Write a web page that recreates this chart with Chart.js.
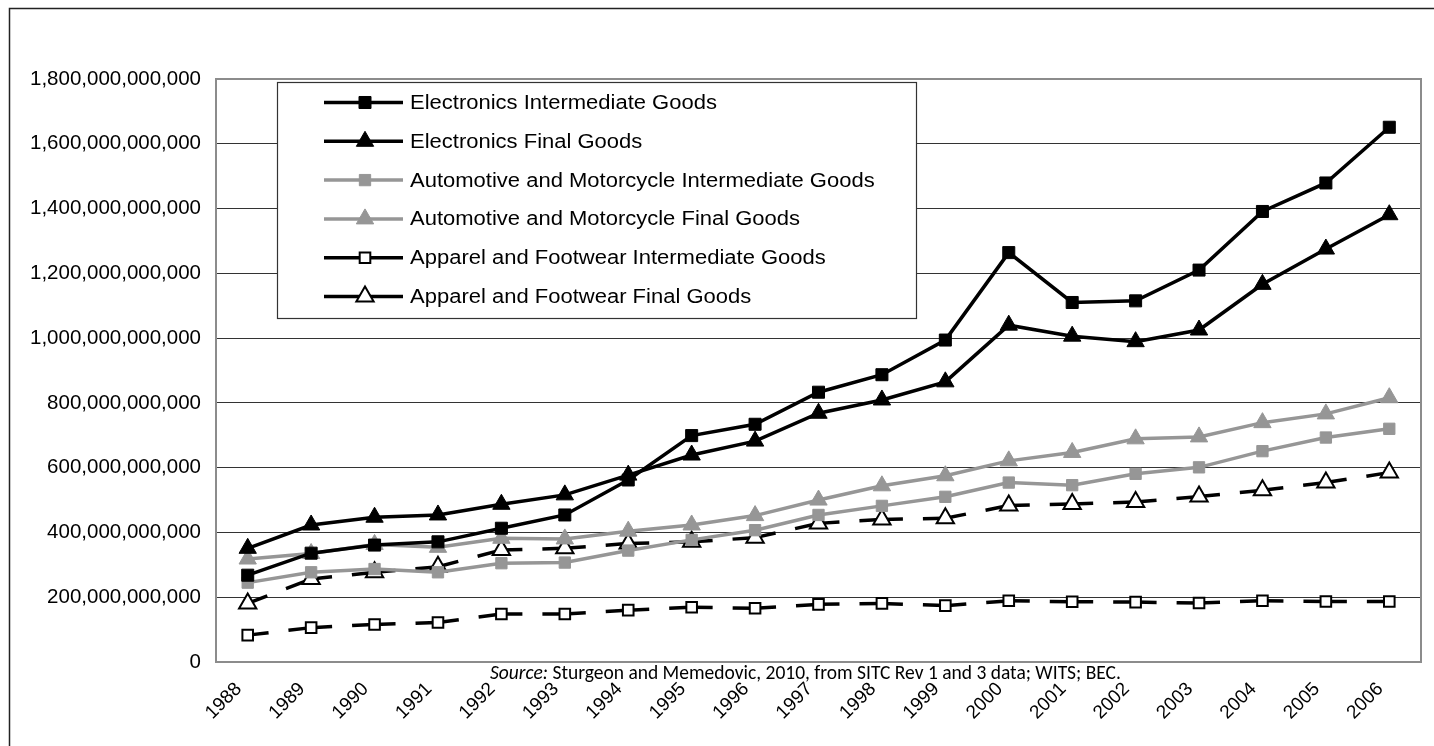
<!DOCTYPE html>
<html>
<head>
<meta charset="utf-8">
<script src="https://cdn.jsdelivr.net/npm/chart.js@4.4.1/dist/chart.umd.min.js"></script>
<style>
	html, body { margin: 0; padding: 0; background: #fff; }
	#wrap { width: 1434px; height: 746px; }
</style>
</head>
<body>
<div id="wrap"><canvas id="chart" width="1434" height="746"></canvas></div>
<script>
// values, in billions
const years = ['1988', '1989', '1990', '1991', '1992', '1993', '1994', '1995', '1996', '1997',
	'1998', '1999', '2000', '2001', '2002', '2003', '2004', '2005', '2006'];
const elecIntermediate = [268, 336, 361, 371, 413, 454, 562, 699, 734, 833, 887, 994, 1264, 1110, 1115, 1210, 1391, 1479, 1651];
const elecFinal = [351, 423, 447, 454, 487, 516, 577, 639, 682, 768, 809, 865, 1040, 1006, 989, 1025, 1166, 1275, 1381];
const autoIntermediate = [245, 277, 287, 277, 305, 307, 344, 377, 407, 454, 482, 510, 554, 546, 581, 601, 651, 693, 720];
const autoFinal = [318, 335, 363, 354, 382, 380, 404, 423, 452, 500, 544, 575, 621, 647, 689, 695, 739, 766, 816];
const apparelIntermediate = [83, 106, 116, 122, 148, 148, 160, 169, 166, 178, 181, 174, 189, 186, 185, 182, 189, 187, 187];
const apparelFinal = [181, 256, 277, 294, 346, 351, 366, 371, 384, 428, 440, 444, 483, 488, 494, 511, 530, 554, 585];
const yTicks = [0, 200, 400, 600, 800, 1000, 1200, 1400, 1600, 1800];
const unit = 1e9;
const sourceLabel = 'Source:';
const sourceText = ' Sturgeon and Memedovic, 2010, from SITC Rev 1 and 3 data; WITS; BEC.';

const BLACK = '#000000';
const GREY = '#969696';
const AXIS_GREY = '#8c8c8c';
const FONT = '"Liberation Sans", Arial, sans-serif';

// Excel draws each dashed segment on its own, so the dash restarts at every point
const restartDash = {
	borderDashOffset: (ctx) => (ctx.p0DataIndex % 2) * 0.001,
};

const series = (label, values, color, fill, pointStyle, radius, dashed) => ({
	label,
	data: values.map((v) => v * unit),
	borderColor: color,
	backgroundColor: fill,
	borderWidth: 3.5,
	borderDash: dashed ? [21, 20] : [],
	segment: dashed ? restartDash : undefined,
	pointStyle,
	pointRadius: radius,
	pointHoverRadius: radius,
	pointBackgroundColor: fill,
	pointBorderColor: dashed ? BLACK : color,
	pointBorderWidth: dashed ? 2 : 1,
	tension: 0,
});

const datasets = [
	series('Electronics Intermediate Goods', elecIntermediate, BLACK, BLACK, 'rect', 8.5, false),
	series('Electronics Final Goods', elecFinal, BLACK, BLACK, 'triangle', 10, false),
	series('Automotive and Motorcycle Intermediate Goods', autoIntermediate, GREY, GREY, 'rect', 8, false),
	series('Automotive and Motorcycle Final Goods', autoFinal, GREY, GREY, 'triangle', 10, false),
	series('Apparel and Footwear Intermediate Goods', apparelIntermediate, BLACK, '#ffffff', 'rect', 7.5, true),
	series('Apparel and Footwear Final Goods', apparelFinal, BLACK, '#ffffff', 'triangle', 10, true),
];

const framePlugin = {
	id: 'frame',
	beforeDraw(chart) {
		const { ctx } = chart;
		ctx.save();
		ctx.fillStyle = '#ffffff';
		ctx.fillRect(0, 0, chart.width, chart.height);
		ctx.strokeStyle = '#222222';
		ctx.lineWidth = 1.5;
		ctx.beginPath();
		ctx.moveTo(9.5, chart.height);
		ctx.lineTo(9.5, 8.5);
		ctx.lineTo(chart.width, 8.5);
		ctx.stroke();
		ctx.restore();
	},
	beforeDatasetsDraw(chart) {
		const { ctx, chartArea: a } = chart;
		ctx.save();
		ctx.strokeStyle = AXIS_GREY;
		ctx.lineWidth = 2;
		ctx.strokeRect(a.left, a.top, a.right - a.left, a.bottom - a.top);
		ctx.restore();
	},
	afterDatasetsDraw(chart) {
		const { ctx, chartArea: a } = chart;
		const box = { x: a.left + 61, y: a.top + 3, w: 639, h: 236 };
		ctx.save();
		ctx.fillStyle = '#ffffff';
		ctx.fillRect(box.x, box.y, box.w, box.h);
		ctx.strokeStyle = '#333333';
		ctx.lineWidth = 1.2;
		ctx.strokeRect(box.x + 0.5, box.y + 0.5, box.w, box.h);

		chart.data.datasets.forEach((ds, i) => {
			const y = box.y + 20.5 + i * 38.8;
			const x1 = box.x + 47;
			const x2 = box.x + 126;
			const mx = box.x + 88;
			ctx.strokeStyle = ds.borderColor;
			ctx.lineWidth = 3.5;
			ctx.setLineDash([]);
			ctx.beginPath();
			ctx.moveTo(x1, y);
			ctx.lineTo(x2, y);
			ctx.stroke();

			ctx.fillStyle = ds.pointBackgroundColor;
			ctx.strokeStyle = ds.pointBorderColor;
			ctx.lineWidth = ds.pointBorderWidth;
			Chart.helpers.drawPoint(ctx, {
				pointStyle: ds.pointStyle,
				radius: ds.pointRadius,
				rotation: 0,
				borderWidth: ds.pointBorderWidth,
			}, mx, y);

			ctx.save();
			ctx.translate(box.x + 133, y);
			ctx.scale(1.1, 1);
			ctx.fillStyle = '#000000';
			ctx.font = `20px ${FONT}`;
			ctx.textBaseline = 'middle';
			ctx.fillText(ds.label, 0, 1);
			ctx.restore();
		});
		ctx.restore();
	},
	afterDraw(chart) {
		const { ctx } = chart;
		ctx.save();
		ctx.fillStyle = '#000000';
		ctx.textBaseline = 'alphabetic';
		let x = 490;
		const y = 679;
		ctx.font = 'italic 19.5px Carlito, Lato, sans-serif';
		ctx.fillText(sourceLabel, x, y);
		x += ctx.measureText(sourceLabel).width;
		ctx.font = '19.5px Carlito, Lato, sans-serif';
		ctx.fillText(sourceText, x, y);
		ctx.restore();
	},
};

new Chart(document.getElementById('chart'), {
	type: 'line',
	data: { labels: years, datasets },
	options: {
		responsive: false,
		animation: false,
		events: [],
		layout: { padding: { top: 79, right: 13, left: 0, bottom: 0 } },
		plugins: {
			legend: { display: false },
			tooltip: { enabled: false },
		},
		scales: {
			x: {
				offset: true,
				grid: { display: false, drawTicks: false },
				border: { color: AXIS_GREY, width: 2 },
				ticks: {
					color: '#000000',
					font: { family: FONT, size: 19 },
					minRotation: 45,
					maxRotation: 45,
					autoSkip: false,
					padding: 16,
					labelOffset: -9,
				},
				afterFit: (scale) => { scale.height = 84; },
			},
			y: {
				min: yTicks[0] * unit,
				max: yTicks[yTicks.length - 1] * unit,
				afterBuildTicks: (scale) => {
					scale.ticks = yTicks.map((v) => ({ value: v * unit }));
				},
				grid: { color: '#333333', lineWidth: 1, drawTicks: false },
				border: { color: AXIS_GREY, width: 2 },
				ticks: {
					color: '#000000',
					font: { family: FONT, size: 20.5 },
					padding: 15,
					callback: (v) => Number(v).toLocaleString('en-US'),
				},
				afterFit: (scale) => { scale.width = 216; },
			},
		},
	},
	plugins: [framePlugin],
});
</script>
</body>
</html>
